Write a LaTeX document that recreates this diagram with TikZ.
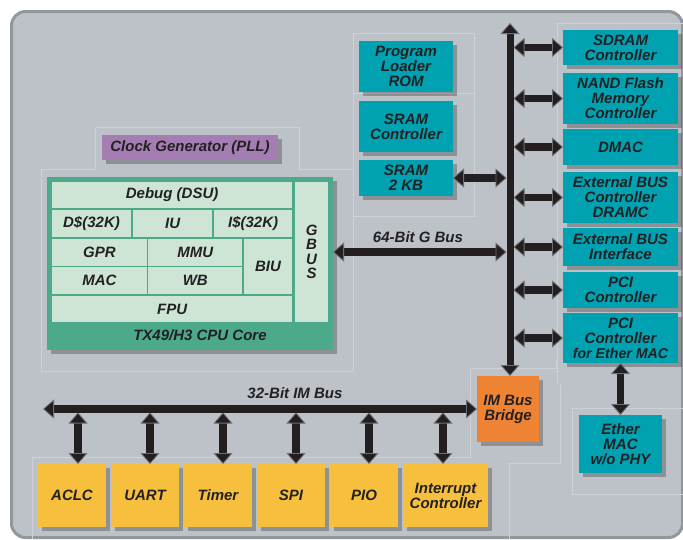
\documentclass[tikz,border=0pt]{standalone}
\usepackage{fontspec}
\setmainfont{Liberation Sans}
\usetikzlibrary{arrows.meta,shadows}
\definecolor{panelc}{RGB}{189,193,200}
\definecolor{panelline}{RGB}{146,151,158}
\definecolor{faint}{RGB}{206,209,214}
\definecolor{tealc}{RGB}{0,162,178}
\definecolor{greenc}{RGB}{76,170,138}
\definecolor{cellc}{RGB}{206,229,214}
\definecolor{purplec}{RGB}{164,125,178}
\definecolor{orangec}{RGB}{238,131,52}
\definecolor{yellowc}{RGB}{246,192,62}
\definecolor{txtc}{RGB}{34,32,34}
\definecolor{arrc}{RGB}{35,31,32}
\definecolor{tipedge}{RGB}{110,110,114}
\newcommand\lblfont{\fontsize{15}{15}\selectfont\bfseries\itshape}
\newcommand\blk[7]{\node[#6, minimum width={(#4-#2)*1pt}, minimum height={(#5-#3)*1pt}] (#1) at ({(#2+#4)/2},{(#3+#5)/2}) {#7};}
\tikzset{
  basebox/.style={inner sep=0pt, outer sep=0pt, align=center, font=\lblfont, text=txtc},
  shad/.style={drop shadow={shadow xshift=4pt, shadow yshift=-4pt, opacity=0.25, fill=black}},
  tealbox/.style={basebox, shad, fill=tealc},
  yelbox/.style={basebox, shad, fill=yellowc},
  cellbox/.style={basebox, fill=cellc},
  lbl/.style={basebox},
  bt/.tip={Triangle[width=19pt, length=11pt, line width=0.8pt, color=tipedge, fill=arrc]},
  biarr/.style={line width=7.5pt, draw=arrc, {bt}-{bt}},
  faintline/.style={draw=faint, line width=0.6pt}
}
\begin{document}
\begin{tikzpicture}[x=1pt,y=-1pt]
\useasboundingbox (0,0) rectangle (683,539);
\fill[white] (0,0) rectangle (683,539);
\draw[draw=panelline, line width=3pt, fill=panelc, rounded corners=14pt] (11.5,11.5) rectangle (682.5,537.5);

% faint region outlines
\draw[faintline] (41,371) -- (41,169) -- (95,169) -- (95,127) -- (299,127) -- (299,169) -- (353,169);
\draw[faintline] (41,371) -- (353,371) -- (353,33) -- (474,33) -- (474,216) -- (353,216);
\draw[faintline] (353,93) -- (474,93);
\draw[faintline] (557,383) -- (557,23) -- (690,23);
\draw[faintline] (32,539) -- (32,457) -- (470,457) -- (470,368) -- (556,368) -- (556,360);
\draw[faintline] (509,539) -- (509,463) -- (560,463) -- (560,385);
\draw[faintline] (572,494) -- (572,408) -- (690,408);
\draw[faintline] (572,494) -- (690,494);

% clock generator
\blk{pll}{102}{135}{278}{160}{basebox, shad, fill=purplec}{Clock Generator (PLL)}

% CPU core
\blk{cpu}{47}{177}{333}{350}{basebox, shad, fill=greenc}{}
\blk{dsu}{52}{181.7}{292.3}{207.7}{cellbox}{Debug (DSU)}
\blk{dcache}{52}{210}{131}{236.7}{cellbox}{D\$(32K)}
\blk{iu}{133}{210}{212.3}{236.7}{cellbox}{IU}
\blk{icache}{214}{210}{292.3}{236.7}{cellbox}{I\$(32K)}
\blk{gpr}{52}{239}{146.7}{265.7}{cellbox}{GPR}
\blk{mmu}{148.3}{239}{242.3}{265.7}{cellbox}{MMU}
\blk{biu}{243.7}{239}{292.3}{294}{cellbox}{BIU}
\blk{mac}{52}{267.3}{146.7}{294}{cellbox}{MAC}
\blk{wb}{148.3}{267.3}{242.3}{294}{cellbox}{WB}
\blk{fpu}{52}{296}{292.3}{322.3}{cellbox}{FPU}
\blk{gbus}{295}{181.7}{328.3}{322.3}{cellbox, font=\fontsize{15}{14.5}\selectfont\bfseries\itshape}{G\\B\\U\\S}
\node[lbl] (corelbl) at (200,335) {TX49/H3 CPU Core};

% left teal column
\blk{plrom}{359}{41}{453}{92}{tealbox}{Program\\Loader\\ROM}
\blk{sramc}{359}{101}{453}{152}{tealbox}{SRAM\\Controller}
\blk{sram}{359}{160}{453}{196}{tealbox}{SRAM\\2 KB}

% right teal column
\blk{sdram}{563}{30}{678}{65}{tealbox}{SDRAM\\Controller}
\blk{nand}{563}{73}{678}{124}{tealbox}{NAND Flash\\Memory\\Controller}
\blk{dmac}{563}{129}{678}{165}{tealbox}{DMAC}
\blk{ebc}{563}{172}{678}{223}{tealbox}{External BUS\\Controller\\DRAMC}
\blk{ebi}{563}{228}{678}{266}{tealbox}{External BUS\\Interface}
\blk{pci}{563}{272}{678}{308}{tealbox}{PCI\\Controller}
\blk{pcie}{563}{313}{678}{363}{tealbox}{PCI\\Controller\\{\fontsize{14.2}{15}\selectfont for Ether MAC}}
\blk{ether}{579}{415}{662}{473}{tealbox}{Ether\\MAC\\w/o PHY}

% bridge
\blk{bridge}{477}{376}{539}{442}{basebox, shad, fill=orangec}{IM Bus\\Bridge}

% peripherals
\blk{aclc}{38}{464}{106}{527}{yelbox}{ACLC}
\blk{uart}{111}{464}{179}{527}{yelbox}{UART}
\blk{timer}{184}{464}{252}{527}{yelbox}{Timer}
\blk{spi}{257}{464}{325}{527}{yelbox}{SPI}
\blk{pio}{330}{464}{398}{527}{yelbox}{PIO}
\blk{intc}{403}{464}{488}{527}{yelbox}{Interrupt\\Controller}

% bus labels
\node[lbl] (gbuslbl) at (418,237) {64-Bit G Bus};
\node[lbl] (imbuslbl) at (295,393) {32-Bit IM Bus};

% G bus (vertical)
\coordinate (busTop) at (510,23);
\coordinate (busR) at (513.5,0);
\coordinate (busL) at (506.5,0);
\draw[biarr, line width=7pt] (busTop) -- (busTop |- bridge.north);

% arrows to right column
\foreach \n in {sdram,nand,dmac,ebc,ebi,pci,pcie}
  \draw[biarr] (busR |- \n.west) -- (\n.west);
\draw[biarr] (sram.east) -- (busL |- sram.east);
\draw[biarr] (gbus.east -| cpu.east) -- (busL |- gbus.east);
\draw[biarr] (pcie.south -| ether.north) -- (ether.north);

% IM bus
\coordinate (imL) at (43,409);
\draw[biarr] (imL) -- (bridge.west);
\foreach \n/\x in {aclc/78,uart/150,timer/223,spi/296,pio/369,intc/443}{
  \coordinate (t\n) at (\x,412.5);
  \draw[biarr] (t\n) -- (t\n |- \n.north);
}
\end{tikzpicture}
\end{document}
